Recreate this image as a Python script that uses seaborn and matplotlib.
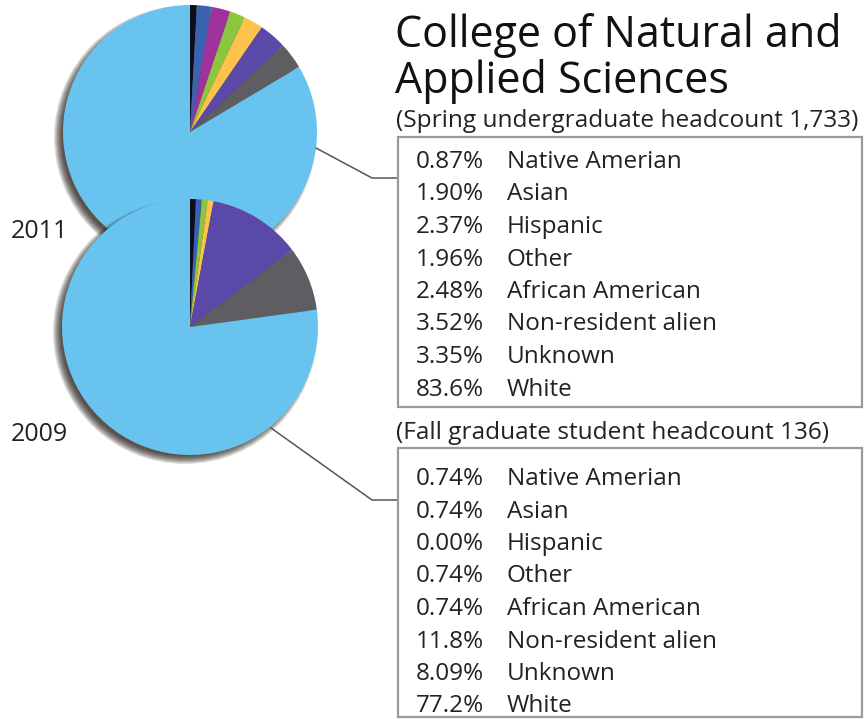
import numpy as np
import matplotlib
matplotlib.use("Agg")
import matplotlib.pyplot as plt
from matplotlib.patches import Circle, Rectangle
import seaborn as sns

# ---------------- data ----------------
categories = ["Native Amerian", "Asian", "Hispanic", "Other", "African American",
              "Non-resident alien", "Unknown", "White"]
undergrad_2011 = [0.87, 1.90, 2.37, 1.96, 2.48, 3.52, 3.35, 83.6]
grad_2009 = [0.74, 0.74, 0.00, 0.74, 0.74, 11.8, 8.09, 77.2]
year_labels = ["2011", "2009"]
title_lines = ["College of Natural and", "Applied Sciences"]
subtitles = ["(Spring undergraduate headcount 1,733)", "(Fall graduate student headcount 136)"]
slice_colors = ["#0d0d1c", "#3a62b0", "#a0309c", "#8cc63f", "#fbc24c",
                "#5a49a8", "#5e5e62", "#68c4ef"]

# ---------------- figure ----------------
sns.set_theme(style="white")
plt.rcParams['font.family'] = ['Open Sans', 'DejaVu Sans']

W, H = 868, 719
fig = plt.figure(figsize=(W / 100, H / 100), dpi=100)
ax = fig.add_axes([0, 0, 1, 1])


def Y(y):
    return H - y


def fmt(v):
    return f"{v:.2f}%" if v < 10 else f"{v:.1f}%"


pies = [
    (undergrad_2011, (190, 132), 127),
    (grad_2009, (190, 327), 128),
]

z = 1
for vals, (cx, cy), r in pies:
    # soft drop shadow (lower-left)
    for k in range(9):
        ax.add_patch(Circle((cx - 5, Y(cy) - 5), r + 4 - k, facecolor="#1a1008",
                            edgecolor="none", alpha=0.13, zorder=z))
    z += 1
    wedges, _ = ax.pie(vals, colors=slice_colors, startangle=90, counterclock=False,
                       center=(cx, Y(cy)), radius=r, frame=True,
                       wedgeprops=dict(linewidth=0, edgecolor="none"))
    for w in wedges:
        w.set_zorder(z)
    z += 1

ax.set_xlim(0, W)
ax.set_ylim(0, H)
ax.set_aspect("equal")
ax.axis("off")

# year labels
ax.text(11, Y(238), year_labels[0], fontsize=18, color="#222222", va="baseline", ha="left", zorder=20)
ax.text(11, Y(441), year_labels[1], fontsize=18, color="#222222", va="baseline", ha="left", zorder=20)

# title
ax.text(395, Y(47), title_lines[0], fontsize=31, color="#111111", va="baseline", ha="left")
ax.text(395, Y(93), title_lines[1], fontsize=31, color="#111111", va="baseline", ha="left")

# subtitles
ax.text(396, Y(127), subtitles[0], fontsize=17.6, color="#222222", va="baseline", ha="left")
ax.text(396, Y(439), subtitles[1], fontsize=17.6, color="#222222", va="baseline", ha="left")

# boxes
boxes = [(398, 137, 862, 407), (398, 448, 862, 717)]
for (x0, y0, x1, y1) in boxes:
    ax.add_patch(Rectangle((x0, Y(y1)), x1 - x0, y1 - y0, facecolor="white",
                           edgecolor="#9a9a9a", linewidth=1.6, zorder=5))

# rows
for vals, base in [(undergrad_2011, 168), (grad_2009, 485)]:
    for i, (cat, v) in enumerate(zip(categories, vals)):
        yb = base + i * 32.5
        ax.text(416, Y(yb), fmt(v), fontsize=17.5, color="#222222", va="baseline", ha="left", zorder=6)
        ax.text(507, Y(yb), cat, fontsize=17.5, color="#222222", va="baseline", ha="left", zorder=6)

# connector lines
ax.plot([316, 372, 398], [Y(148), Y(178), Y(178)], color="#555555", lw=1.1, zorder=4)
ax.plot([271, 372, 398], [Y(428), Y(500), Y(500)], color="#555555", lw=1.1, zorder=4)

fig.savefig("out.png", dpi=100)
